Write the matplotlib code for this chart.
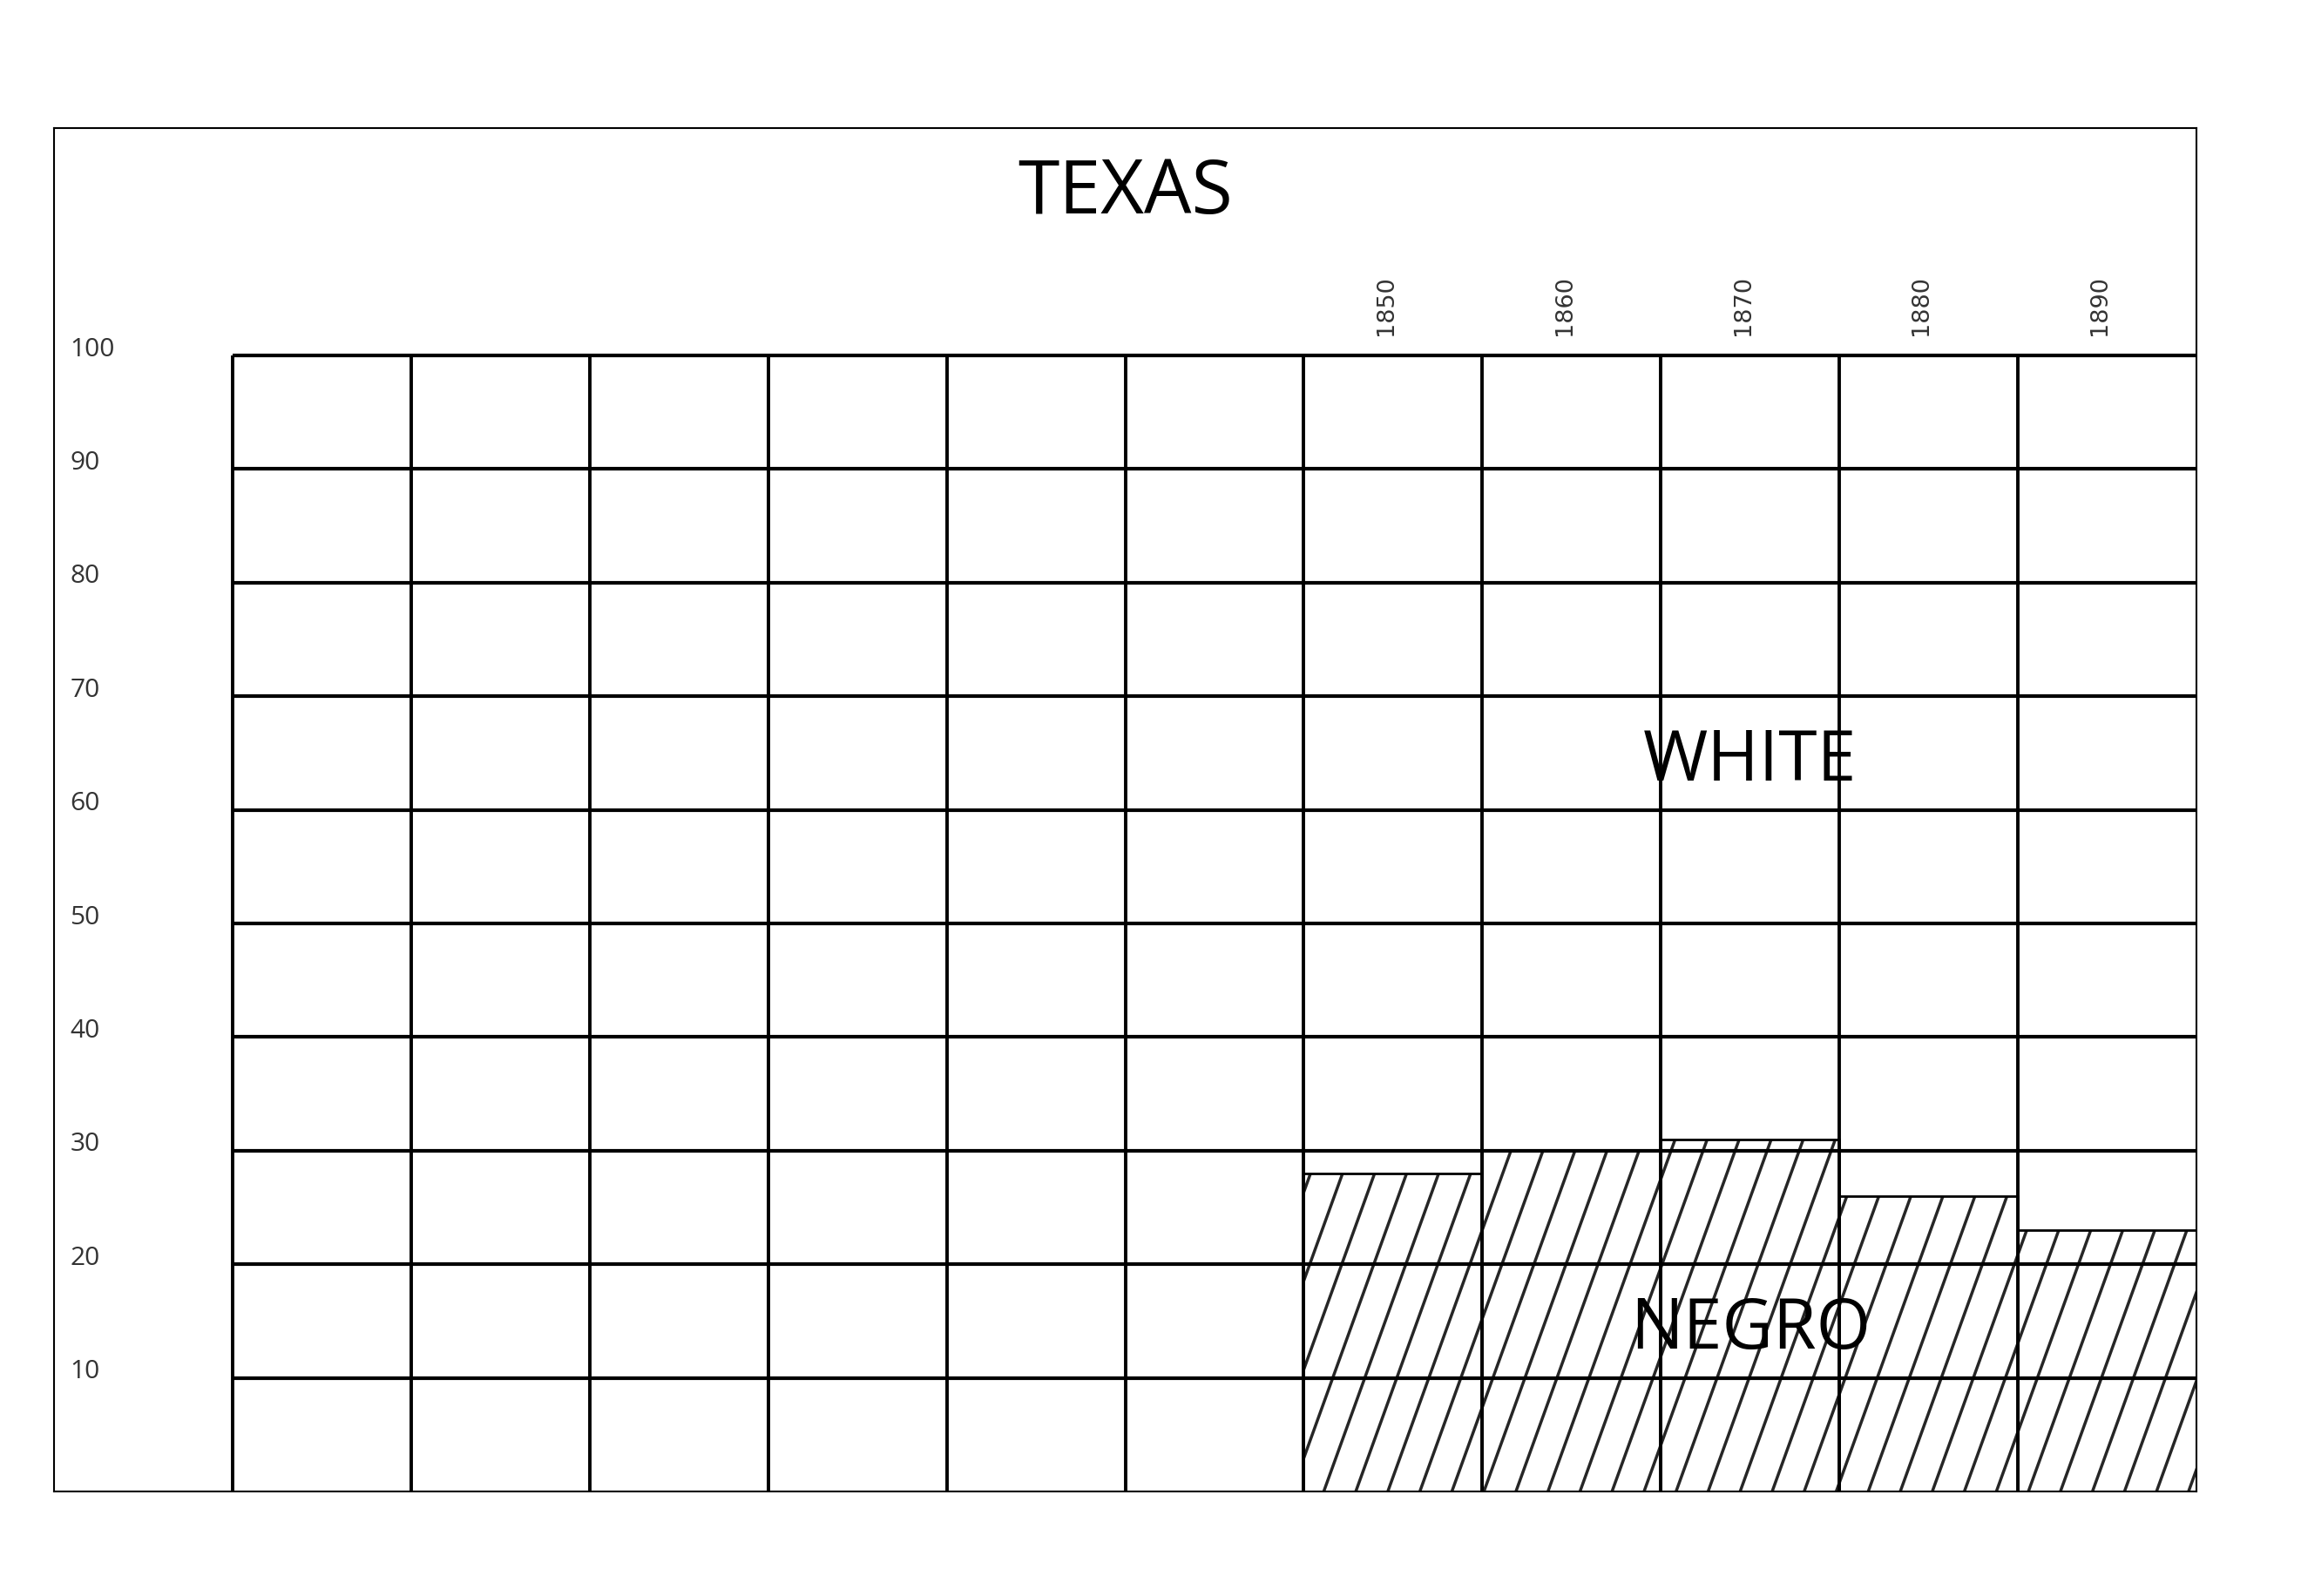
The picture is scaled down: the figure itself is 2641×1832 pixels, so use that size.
import numpy as np
import matplotlib
matplotlib.use('Agg')
import matplotlib.pyplot as plt
from matplotlib.collections import LineCollection

# --- data ---
years = [1850, 1860, 1870, 1880, 1890]
negro_pct = [28, 30, 31, 26, 23]
y_ticks = [10, 20, 30, 40, 50, 60, 70, 80, 90, 100]
n_columns = 11
title = "TEXAS"
upper_label = "WHITE"
lower_label = "NEGRO"

LABEL_COL = "#333333"


def hatch_bar(ax, patch, x_start=6.112, step=0.1794, slope=43.5):
    # steep diagonal hatching, clipped to one bar
    xs = x_start + step * np.arange(-40, 60)
    segs = [[(x, 0), (x + 120 / slope, 120)] for x in xs]
    lc = LineCollection(segs, colors="#262626", linewidths=2.5, zorder=1.5)
    ax.add_collection(lc)
    lc.set_clip_path(patch)


fig = plt.figure(figsize=(26.41, 18.33), dpi=100)
ax = fig.add_axes([62 / 2641, 1 - 1713 / 1833, (2521 - 62) / 2641, (1713 - 148) / 1833])
ax.set_xlim(-1, n_columns)
ax.set_ylim(0, 120)
ax.set_xticks([])
ax.set_yticks([])
for sp in ax.spines.values():
    sp.set_linewidth(1.5)
    sp.set_color("black")

# bars in the last columns
first_col = n_columns - len(years)
x_pos = np.arange(first_col, n_columns) + 0.5
bars = ax.bar(x_pos, negro_pct, width=1.0, color="white", edgecolor="none", zorder=1)
for b in bars:
    hatch_bar(ax, b)
ax.bar(x_pos, negro_pct, width=1.0, fill=False, edgecolor="black", linewidth=2.0, zorder=2)

# grid
for v in y_ticks:
    ax.plot([0, n_columns], [v, v], color="black", lw=3.0, zorder=3, solid_capstyle="butt")
for c in range(n_columns):
    ax.plot([c, c], [0, 100], color="black", lw=2.8, zorder=3, solid_capstyle="butt")

# labels
for v in y_ticks:
    ax.text(-0.91, v + 0.6, str(v), ha="left", va="center", fontsize=21.5,
            family="Open Sans", color=LABEL_COL)
for x, yr in zip(x_pos, years):
    ax.text(x - 0.04, 101.8, str(yr), rotation=90, ha="center", va="bottom", fontsize=19.5,
            family="DejaVu Sans", color=LABEL_COL)

ax.text((n_columns - 1) / 2, 114.3, title, ha="center", va="center", fontsize=62,
        family="Open Sans", color="black")
ax.text(x_pos[2], 64.3, upper_label, ha="center", va="center", fontsize=58,
        family="Open Sans", color="black", zorder=4)
ax.text(x_pos[2], 14.3, lower_label, ha="center", va="center", fontsize=58,
        family="Open Sans", color="black", zorder=4)

fig.savefig("out.png", dpi=100, facecolor="white")
